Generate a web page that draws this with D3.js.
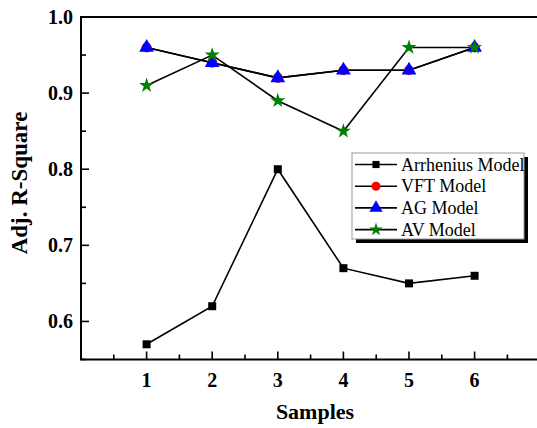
<!DOCTYPE html>
<html><head><meta charset="utf-8">
<script src="https://cdn.jsdelivr.net/npm/d3@7"></script>
<style>body{margin:0;background:#fff}svg{display:block}text{font-family:"Liberation Serif","Times New Roman",Times,"DejaVu Serif",serif}</style>
</head><body>
<svg id="c" width="537" height="428"></svg>
<script>
const samples = [1, 2, 3, 4, 5, 6];
const arrhenius = [0.57, 0.62, 0.80, 0.67, 0.65, 0.66];
const vft = [0.96, 0.94, 0.92, 0.93, 0.93, 0.96];
const ag = [0.96, 0.94, 0.92, 0.93, 0.93, 0.96];
const av = [0.91, 0.95, 0.89, 0.85, 0.96, 0.96];
const yTicks = [0.6, 0.7, 0.8, 0.9, 1.0];
const seriesNames = ["Arrhenius Model", "VFT Model", "AG Model", "AV Model"];

const series = [
  {name: seriesNames[0], values: arrhenius, color: "#000", sym: d3.symbolSquare, size: 64},
  {name: seriesNames[1], values: vft, color: "#ff0000", sym: d3.symbolCircle, size: 80},
  {name: seriesNames[2], values: ag, color: "#0000ff", sym: d3.symbolTriangle, size: 95},
  {name: seriesNames[3], values: av, color: "#008000", sym: d3.symbolStar, size: 70}
];

const svg = d3.select("#c");
const L = 81, T = 17, B = 359.5;
const x = d3.scaleLinear().domain([0, 7]).range([L, L + 7 * 65.6]);
const y = d3.scaleLinear().domain([0.55, 1.0]).range([B, T]);
const R = x(7);

// frame
svg.append("path").attr("d", `M${R},${T}H${L}V${B}H${R}`)
  .attr("fill", "none").attr("stroke", "#000").attr("stroke-width", 2);

// x ticks
const g = svg.append("g");
d3.range(0.5, 7, 0.5).forEach(v => {
  const major = Number.isInteger(v);
  g.append("line").attr("x1", x(v)).attr("x2", x(v)).attr("y1", B).attr("y2", B - (major ? 8 : 5))
    .attr("stroke", "#000").attr("stroke-width", 1.6);
});
samples.forEach(v => {
  g.append("text").attr("x", x(v)).attr("y", 387).attr("text-anchor", "middle")
    .attr("font-weight", "bold").attr("font-size", 20).text(v);
});
// y ticks
d3.range(0.55, 1.0001, 0.05).forEach(v => {
  const major = Math.abs(Math.round(v * 10) - v * 10) < 1e-6;
  g.append("line").attr("x1", L).attr("x2", L + (major ? 8 : 5)).attr("y1", y(v)).attr("y2", y(v))
    .attr("stroke", "#000").attr("stroke-width", 1.6);
});
yTicks.forEach(v => {
  g.append("text").attr("x", 73).attr("y", y(v) + 7).attr("text-anchor", "end")
    .attr("font-weight", "bold").attr("font-size", 20).text(v.toFixed(1));
});

// axis titles
svg.append("text").attr("x", 315).attr("y", 419).attr("text-anchor", "middle")
  .attr("font-weight", "bold").attr("font-size", 22).text("Samples");
svg.append("text").attr("transform", `translate(27,183) rotate(-90)`).attr("text-anchor", "middle")
  .attr("font-weight", "bold").attr("font-size", 23).text("Adj. R-Square");

// lines
const line = d3.line().x((d, i) => x(samples[i])).y(d => y(d));
series.forEach(s => {
  svg.append("path").datum(s.values).attr("d", line).attr("fill", "none")
    .attr("stroke", "#000").attr("stroke-width", 1.6);
});
series.forEach(s => {
  svg.selectAll(null).data(s.values).enter().append("path")
    .attr("transform", (d, i) => `translate(${x(samples[i])},${y(d)})`)
    .attr("d", d3.symbol().type(s.sym).size(s.size)).attr("fill", s.color);
});

// legend
const lx = 352, ly = 153, lw = 172, lh = 86;
svg.append("rect").attr("x", lx + 4).attr("y", ly + 4).attr("width", lw).attr("height", lh).attr("fill", "#000");
svg.append("rect").attr("x", lx).attr("y", ly).attr("width", lw).attr("height", lh)
  .attr("fill", "#fff").attr("stroke", "#999").attr("stroke-width", 1);
series.forEach((s, i) => {
  const yy = ly + 11.5 + i * 21.7;
  svg.append("line").attr("x1", 355).attr("x2", 397).attr("y1", yy).attr("y2", yy)
    .attr("stroke", "#000").attr("stroke-width", 1.6);
  svg.append("path").attr("transform", `translate(376,${yy})`)
    .attr("d", d3.symbol().type(s.sym).size(s.size * 0.8)).attr("fill", s.color);
  svg.append("text").attr("x", 401).attr("y", yy + 6)
    .attr("font-size", 18).text(s.name);
});
</script>
</body></html>
